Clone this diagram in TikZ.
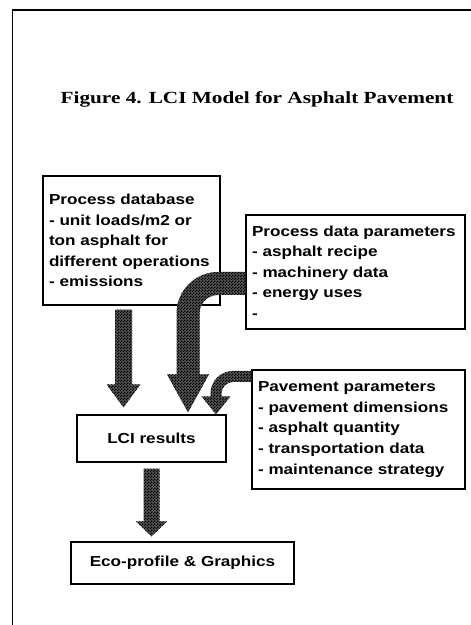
\documentclass[tikz,border=0pt]{standalone}
\usepackage{fontspec}
\usetikzlibrary{calc,patterns}
\newfontfamily\boxfont[FakeStretch=1.18]{Liberation Sans}
\newfontfamily\titlefont[FakeStretch=1.25]{Liberation Serif}
\pgfdeclarepatternformonly{finechecker}{\pgfqpoint{0pt}{0pt}}{\pgfqpoint{3pt}{3pt}}{\pgfqpoint{3pt}{3pt}}{%
  \pgfpathrectangle{\pgfpointorigin}{\pgfqpoint{1.5pt}{1.5pt}}%
  \pgfpathrectangle{\pgfqpoint{1.5pt}{1.5pt}}{\pgfqpoint{1.5pt}{1.5pt}}%
  \pgfusepath{fill}}
% straight fat arrow: #1 start, #2 tip, #3 shaft half width, #4 head half width, #5 head length
\newcommand\straightfat[5]{%
  \path[fatarrow] let \p1=(#1), \p2=(#2) in
    ({\x2-#3},\y1) -- ({\x2-#3},{\y2+#5}) -- ({\x2-#4},{\y2+#5}) -- (\x2,\y2)
    -- ({\x2+#4},{\y2+#5}) -- ({\x2+#3},{\y2+#5}) -- ({\x2+#3},\y1) -- cycle;}
% bent fat arrow: #1 start (right), #2 tip (below left), #3 half width, #4 bend radius, #5 head half width, #6 head length
\newcommand\bentfat[6]{%
  \path[fatarrow] let \p1=(#1), \p2=(#2) in
    (\x1,{\y1+#3}) -- ({\x2+#4},{\y1+#3})
    .. controls ({\x2+#4-0.5523*(#4+#3)},{\y1+#3}) and ({\x2-#3},{\y1-#4+0.5523*(#4+#3)}) .. ({\x2-#3},{\y1-#4})
    -- ({\x2-#3},{\y2+#6}) -- ({\x2-#5},{\y2+#6}) -- (\x2,\y2) -- ({\x2+#5},{\y2+#6}) -- ({\x2+#3},{\y2+#6})
    -- ({\x2+#3},{\y1-#4})
    .. controls ({\x2+#3},{\y1-#4+0.5523*(#4-#3)}) and ({\x2+#4-0.5523*(#4-#3)},{\y1-#3}) .. ({\x2+#4},{\y1-#3})
    -- (\x1,{\y1-#3}) -- cycle;}
\tikzset{
  frameline/.style={line width=1.8pt},
  titlestyle/.style={font=\titlefont\bfseries\fontsize{17}{20}\selectfont, inner sep=0pt},
  box/.style={draw, line width=1.2pt, inner xsep=6pt, inner ysep=2pt, align=left,
    font=\boxfont\bfseries\fontsize{14.5}{20.6}\selectfont},
  cbox/.style={draw, line width=1.2pt, inner sep=2pt, align=center,
    font=\boxfont\bfseries\fontsize{14.5}{20.6}\selectfont},
  fatarrow/.style={fill=black!68, postaction={pattern=finechecker, pattern color=black}},
}
\begin{document}
\begin{tikzpicture}[x=1pt,y=1pt]
\useasboundingbox (0,0) rectangle (471,625);
\draw[frameline] (471,615) -- (12.5,615) -- (12.5,0);
\node[titlestyle] (title) at (257,526) {Figure 4. LCI Model for Asphalt Pavement};
\node[box, text width=165pt, minimum height=129pt] (pdb) at (131.5,384.5)
  {Process database\\- unit loads/m2 or\\ton asphalt for\\different operations\\- emissions};
\node[box, text width=207pt, minimum height=114pt] (pdp) at (355.5,353)
  {Process data parameters\\- asphalt recipe\\- machinery data\\- energy uses\\-};
\node[box, text width=201pt, minimum height=119pt] (pav) at (358.5,195.5)
  {Pavement parameters\\- pavement dimensions\\- asphalt quantity\\- transportation data\\- maintenance strategy};
\node[cbox, minimum width=149pt, minimum height=47pt] (lci) at (151.5,186.5) {LCI results};
\node[cbox, minimum width=223pt, minimum height=42pt] (eco) at (182.5,62) {Eco-profile \& Graphics};
\coordinate (x1) at (123.5,0);
\coordinate (x2) at (188,0);
\coordinate (x3) at (216,0);
\coordinate (x4) at (151.5,0);
\coordinate (a1s) at ($(pdb.south -| x1)+(0,-4)$);
\coordinate (a1t) at ($(lci.north -| x1)+(0,7)$);
\straightfat{a1s}{a1t}{8.5}{17}{23}
\coordinate (a2s) at ($(pdp.west)+(0,-11.5)$);
\coordinate (a2t) at ($(lci.north -| x2)+(0,2)$);
\bentfat{a2s}{a2t}{11.5}{30}{21}{38}
\coordinate (a3s) at ($(pav.west)+(0,53)$);
\coordinate (a3t) at (lci.north -| x3);
\bentfat{a3s}{a3t}{5.5}{17}{14.5}{18}
\coordinate (a4s) at ($(lci.south -| x4)+(0,-6)$);
\coordinate (a4t) at ($(eco.north -| x4)+(0,5)$);
\straightfat{a4s}{a4t}{8}{15.5}{15}
\end{tikzpicture}
\end{document}
